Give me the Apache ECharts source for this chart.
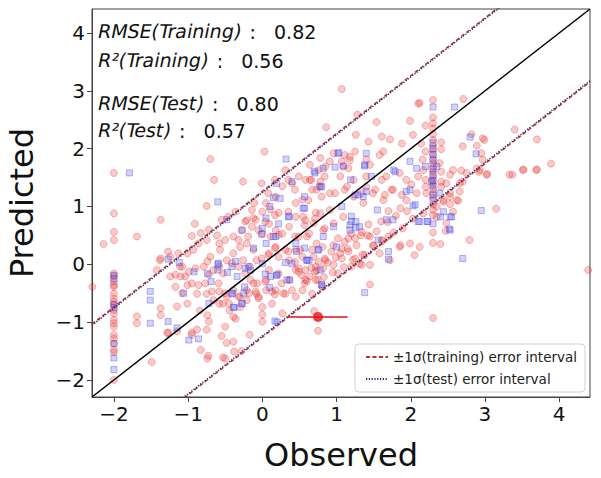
<!DOCTYPE html>
<html><head><meta charset="utf-8">
<script src="https://cdn.jsdelivr.net/npm/echarts@6/dist/echarts.min.js"></script>
<style>html,body{margin:0;padding:0;background:#fff}#c{width:601px;height:478px}</style>
</head><body><div id="c"></div>
<script>
// ---- data ----
const axisMin = -2.295, axisMax = 4.415;
const tickValues = [-2, -1, 0, 1, 2, 3, 4];
const statLabels = ['RMSE(Training)', 'R²(Training)', 'RMSE(Test)', 'R²(Test)'];
const statValues = ['0.82', '0.56', '0.80', '0.57'];
const legendNames = ['±1σ(training) error interval', '±1σ(test) error interval'];
const trainingBand = 1.26;
const testBand = 1.24;
const highlightPoint = [0.75, -0.91];
const highlightError = 0.40;

const trainingPoints = [
 [-2.0,1.58],[-2.0,0.88],[-2.0,0.56],[-2.0,0.42],[-2.0,-0.16],[-2.0,-0.21],[-2.0,-0.30],[-2.0,-0.36],[-2.0,-0.39],[-2.0,-0.51],[-2.0,-0.59],[-2.0,-0.65],[-2.0,-0.70],[-2.0,-0.79],[-2.0,-0.85],[-2.0,-0.96],[-2.0,-1.02],[-2.0,-1.08],[-2.0,-1.22],[-2.0,-1.28],[-2.0,-1.37],[-2.0,-1.48],[-2.0,-1.52],[-2.0,-2.0],
 [-0.70,1.82],[-0.65,1.46],[-0.26,1.43],[-1.37,0.77],[-0.75,1.01],[-1.69,0.48],[-2.14,0.35],[-0.95,0.49],[-1.27,0.22],[-1.37,0.10],
 [-0.83,0.54],[-0.72,0.60],[-0.55,0.77],[-0.36,0.91],[-0.23,0.74],[-0.14,0.94],[-0.09,0.77],[-0.05,0.59],[-0.32,0.42],[-0.19,0.48],[-0.58,0.36],[-0.86,0.36],[-1.13,0.19],
 [-2.29,-0.39],[-1.69,-0.90],[-1.69,-1.02],[-1.37,-0.76],[-1.37,-0.88],[-1.15,-0.73],[-1.27,-1.18],[-1.49,-1.69],[-0.95,-1.18],[-0.83,-1.48],[-0.74,-1.63],[-0.50,-1.63],[-0.38,-1.51],[-0.50,-1.08],[-0.36,-0.94],[-0.74,-0.88],[-0.72,-0.99],[-1.08,-0.50],[-1.17,-0.39],[-1.10,-0.21],
 [-1.01,-0.36],[-0.86,-0.36],[-0.77,-0.33],[-0.68,-0.47],[-0.58,-0.47],[-0.50,-0.50],[-0.58,-0.68],[-0.45,-0.68],[-0.32,-0.56],[-0.18,-0.50],[-0.09,-0.47],[-0.05,-0.59],[-0.41,0.02],[-0.32,-0.04],[-0.23,-0.16],[-0.16,-0.27],[-0.07,-0.33],[-0.72,-0.18],[-0.90,-0.07],[-1.08,-0.04],[-0.99,-0.13],[-1.17,-0.18],[-0.74,0.05],[-0.58,-0.04],
 [-0.91,0.70],[-0.46,0.82],[-0.12,0.80],[0.00,0.91],[0.11,0.95],[0.22,0.89],[0.45,1.06],[0.54,1.12],[0.18,1.17],[0.05,1.06],[-0.11,1.06],[0.27,1.35],[0.40,1.40],[0.58,1.46],[0.76,1.63],[0.85,1.69],[0.67,1.29],[0.77,1.35],
 [-1.24,-0.21],[-1.42,-0.10],[-1.38,0.07],[-1.24,0.13],[-1.11,-0.04],[-1.04,-0.21],[-0.95,-0.33],[-0.88,-0.51],[-1.01,-0.68],[-0.84,-0.80],[-0.75,-0.51],[-0.66,-0.62],[-0.59,-0.33],[-0.53,-0.16],[-0.66,-0.10],[-0.79,-0.04],[-0.70,0.13],[-0.57,0.25],[-0.48,0.07],[-0.39,0.19],[-0.30,0.30],[-0.26,0.07],[-0.17,-0.04],[-0.08,0.07],[-0.12,0.25],[-0.21,0.36],[-0.39,0.48],[-0.50,0.42],[-0.61,0.50],[-0.75,0.42],[-0.93,0.25],[-1.01,0.19],[-0.28,0.59],[-0.14,0.65],[-0.21,0.76],[0.00,0.53],[0.11,0.48],[0.18,0.59],[0.09,0.70],[0.27,0.53],[0.36,0.65],[0.45,0.82],[0.58,0.76],[0.72,0.89],[0.49,0.48],[0.63,0.53],[0.45,0.25],[0.31,0.25],[0.18,0.30],[0.09,0.19],[0.22,0.13],[0.36,0.07],[0.54,0.13],[0.67,0.25],[0.81,0.30],[0.85,0.07],[0.72,-0.04],[0.58,-0.10],[0.45,-0.10],[0.36,-0.27],[0.22,-0.16],[0.09,-0.10],[0.05,-0.27],[-0.12,-0.33],[-0.21,-0.45],[-0.30,-0.56],[-0.39,-0.45],[-0.48,-0.56],[-0.53,-0.68],[-0.44,-0.80],[-0.30,-0.74],[-0.21,-0.62],[-0.08,-0.51],[0.05,-0.45],[0.18,-0.45],[0.31,-0.51],[0.45,-0.56],[0.54,-0.45],[0.67,-0.51],[0.81,-0.39],[0.72,-0.27],[0.58,-0.27],[0.00,-0.74],[0.13,-0.68],[0.27,-0.85],[0.00,-0.99],[0.00,-0.87],[-0.17,-1.22],[-0.39,-0.91],[-0.55,-1.24],[-0.48,-1.36],[-0.73,-1.58],[-0.53,-1.61],[-0.28,-1.50],[-0.39,-1.34],[-0.75,-1.13],[-0.88,-1.13],[-0.95,-1.22],[-1.15,-1.16],[-1.28,-1.19],
 [1.07,3.03],[2.10,2.78],[0.86,2.37],[1.26,2.24],[1.54,2.46],[1.99,2.48],[0.03,1.95],[1.43,2.12],[1.72,2.16],[2.03,2.24],[1.63,1.95],[1.25,1.95],[0.96,1.92],[1.11,1.89],[1.18,1.80],[1.07,1.78],[1.16,1.66],[0.91,1.78],[0.31,1.63],[0.49,1.52],[0.66,1.46],[0.78,1.43],[0.84,1.52],[0.17,1.46],[0.35,1.46],[0.08,1.23],[-0.01,1.40],[1.88,2.09],[2.14,2.09],[1.61,2.21],[1.45,1.72],[1.61,1.46],[1.74,1.29],[1.88,1.20],[1.11,1.29],[0.98,1.23],[0.80,1.17],[0.62,1.11],[0.44,1.29],[1.34,1.23],[1.52,1.29],[1.65,1.20],[2.01,1.38],[1.28,2.59],
 [0.64,1.72],[0.78,1.84],[1.18,1.86],[1.09,1.69],[1.40,1.81],[1.58,1.89],[1.05,1.52],[1.23,1.46],[1.40,1.52],[1.67,1.52],[1.85,1.58],[1.94,1.46],[2.10,1.52],[2.17,1.63],[2.39,1.75],[2.57,1.63],[2.66,1.40],[2.48,1.40],[2.53,1.23],[2.62,1.11],[2.44,1.11],[2.75,1.58],[2.93,1.63],[3.02,1.55],[3.33,1.55],[3.51,1.63],[3.69,1.63],[2.21,1.23],[2.08,1.23],[1.94,1.11],
 [1.86,0.97],[1.70,0.92],[1.60,0.74],[1.43,0.69],[1.33,0.50],[1.16,0.45],[1.07,0.27],[0.93,0.22],[0.76,0.04],[0.66,-0.06],[0.49,-0.13],[0.60,-0.29],[0.73,-0.11],[0.88,0.03],[0.99,0.12],[1.15,0.27],[1.27,0.33],[1.42,0.50],[1.54,0.57],[1.69,0.73],[1.80,0.84],[1.95,0.92],[2.03,0.79],[1.89,0.62],[1.77,0.55],[1.62,0.40],[1.50,0.32],[1.35,0.17],[1.22,0.08],[1.10,-0.05],[0.95,-0.14],[0.83,-0.22],[1.85,0.30],[1.99,0.36],[2.12,0.30],[2.35,0.82],[2.48,0.71],
 [0.78,0.88],[0.91,0.94],[1.09,0.82],[0.96,0.71],[0.82,0.59],[0.69,0.71],[0.55,0.82],[0.60,0.48],[0.73,0.36],[0.51,0.25],[1.23,1.17],[1.36,1.06],[1.49,1.23],[1.63,1.11],[1.76,1.29],[1.40,1.34],[1.14,1.34],[0.91,1.23],[0.73,1.29],[0.64,1.46],[1.58,0.19],[1.72,0.07],[1.31,0.01],[0.69,0.13],
 [0.75,-1.15],[0.70,-0.81],[0.17,-0.52],[0.28,-0.50],[1.45,-0.35],[2.05,0.16],[1.86,0.33],[1.70,0.48],[1.61,0.42],[1.49,0.33],
 [-0.05,-0.56],[0.04,-0.30],[0.13,-0.47],[0.26,-0.33],[0.40,-0.45],[0.53,-0.19],[0.64,-0.21],[0.57,-0.33],[0.71,-0.13],[0.82,-0.07],[0.75,-0.27],[0.96,-0.01],[1.07,0.10],[1.02,-0.16],[1.20,-0.04],[1.34,-0.01],[1.25,0.10],[1.16,0.22],[1.38,0.16],[1.45,-0.01],[1.05,0.19],[0.84,0.10],[0.96,0.33],[1.25,0.45],[1.11,0.39],[1.20,0.53],[1.34,0.56],[1.45,0.48],[1.02,0.45],[0.49,-0.07],[0.44,0.04],[0.35,0.22],[0.17,0.28],[0.08,0.16],[-0.01,0.10],[0.22,0.51],[0.44,0.48],[0.57,0.68],[0.71,0.79],[0.84,0.62],[0.35,0.91],[0.17,0.85],[0.04,0.74],
 [2.71,2.86],[3.40,2.33],[3.70,2.16],[3.89,1.74],[3.70,1.64],[3.52,1.64],[3.37,1.55],[3.03,1.56],[2.97,2.18],[2.99,2.15],[2.82,2.25],[2.70,2.04],[2.89,2.05],[2.95,1.92],[2.97,1.81],[2.89,1.66],[2.92,1.60],[2.68,1.62],[2.53,1.55],[2.41,1.60],[2.41,2.11],[2.41,1.99],[2.20,1.95],[2.20,2.40],[2.16,1.81],[2.12,2.79],[2.20,1.46],[2.20,1.34],[2.41,1.43],[2.41,1.34],[2.70,1.43],
 [3.15,0.96],[2.79,0.42],[2.40,0.35],[2.30,0.55],[2.47,0.58],[2.30,-0.93],[4.39,-0.10],[2.64,1.10],[2.66,1.26],[2.53,1.17],[2.53,1.04],[2.44,1.08],[2.35,1.00],[2.57,0.91],[2.17,0.88],
 [2.30,2.84],[2.30,2.54],[2.30,2.44],[2.30,2.35],[2.30,2.25],[2.30,2.15],[2.30,2.05],[2.30,1.98],[2.30,1.90],[2.30,1.82],[2.30,1.75],[2.30,1.68],[2.30,1.60],[2.30,1.52],[2.30,1.45],[2.30,1.38],[2.30,1.30],[2.30,1.22],[2.30,1.15],[2.30,1.03],[2.30,0.94],[2.30,0.85],[2.30,0.37]
];

const testPoints = [
 [-2.0,-0.19],[-2.0,-0.25],[-2.0,-0.70],[-2.0,-0.75],[-2.0,-1.37],[-2.0,-1.62],[-2.0,-1.82],
 [-1.79,1.58],[-0.60,1.08],[-0.48,0.77],[-0.27,0.59],[-1.27,0.09],[-1.12,0.03],
 [-1.51,-0.47],[-1.51,-0.62],[-1.51,-1.02],[-1.27,-0.99],[-1.15,-1.10],[-0.99,-1.31],[-0.86,-1.29],[-0.92,-0.13],[-0.69,-0.30],[-1.06,-0.50],[-0.72,-0.68],[-0.38,-0.75],[-0.25,-0.50],[-0.40,-0.50],[-0.27,-0.68],
 [-0.60,-0.10],[-0.47,-0.14],[-0.74,-0.16],[-0.59,0.02],[-0.36,0.05],[-0.23,-0.07],[-0.16,-0.10],
 [0.00,0.62],[0.05,0.80],[0.22,0.70],[0.36,0.82],[-0.60,0.00],[-0.41,-0.04],[-0.34,-0.21],[-0.24,-0.39],[-0.41,-0.51],[-0.28,-0.68],[-0.39,-0.74],[-0.19,-0.04],[0.00,0.01],[0.11,-0.21],[0.20,-0.18],[0.33,-0.27],[0.40,0.01],[0.63,0.07],[0.76,0.25],[0.20,-1.00],[-0.12,0.28],[0.05,0.36],[0.18,0.48],[0.45,0.36],
 [0.32,1.82],[0.70,1.61],[0.98,1.68],[1.03,1.93],[1.09,1.70],[0.82,1.66],[1.19,1.46],[1.38,1.70],[1.77,1.63],[1.79,1.60],[1.99,1.78],[2.08,1.66],[1.47,1.52],[0.40,1.43],[0.19,1.40],[0.24,1.14],[0.15,1.15],[0.80,1.34],[1.25,1.20],[1.36,1.17],[1.99,1.29],[2.03,1.01],[0.57,0.97],
 [0.17,-0.98],[1.38,-0.49],[0.80,-0.35],[1.70,0.22],[1.70,0.09],[1.56,0.42],[2.10,0.74],[1.26,0.74],[1.26,0.63],[1.18,0.68],[0.37,-0.27],[0.10,-0.40],[0.04,-0.17],[0.31,0.03],[0.46,0.22],[0.60,0.07],[0.57,0.28],[0.19,-0.19],[-0.01,0.52],[0.15,0.48],[0.10,1.00],[0.35,0.83],[0.55,0.97],[1.07,1.00],[1.20,0.83],[1.67,0.77],[1.76,0.77],
 [2.30,2.72],[2.59,2.72],[2.80,2.20],[2.88,1.91],[2.20,1.69],[2.35,1.69],[2.28,1.43],
 [2.95,0.93],[2.70,0.10],[2.52,0.61],[2.40,0.82],[2.53,0.82],[2.22,0.74],[2.12,0.74],[2.30,0.70],
 [0.71,1.58],[1.38,1.72],[1.40,1.92],[1.02,1.92],[0.57,1.17],[0.78,1.34],[1.29,1.20],[1.40,1.26],[1.94,1.26],[2.06,1.03],[2.39,1.23],[1.55,0.94],[1.31,0.65],[1.18,0.59],[0.96,0.65],[1.20,0.74],[0.82,0.48],[0.75,0.25],[0.60,0.07],[0.78,-0.10],[1.00,0.30],[2.23,0.74],[2.44,0.91],[2.55,0.82],[2.53,0.59],[0.80,-0.36],
 [2.30,2.10],[2.30,2.00],[2.30,1.90],[2.30,1.80],[2.30,1.65],[2.30,1.55],[2.30,1.45],[2.30,1.35],[2.30,1.20],[2.30,1.10]
];

// ---- chart ----
const FONT = 'DejaVu Sans';
const chart = echarts.init(document.getElementById('c'), null, {renderer: 'svg'});
const fmt = v => String(v).replace('-', '\u2212');
const bandLine = off => [[axisMin, axisMin + off], [axisMax, axisMax + off]];
const statY = [32, 60.5, 104, 131];
const statX = 98;

const trainStyle = {color: '#b8322e', width: 1.5, type: [4, 2.5]};
const testStyle = {color: '#2e2870', width: 1.5, type: [1.2, 1.6]};
const statFont = 'normal 19px "DejaVu Sans"';

// measure upright label width so the value can follow it
const mctx = document.createElement('canvas').getContext('2d');
mctx.font = statFont;
const labelWidth = s => mctx.measureText(s).width;

const statGraphics = [];
statLabels.forEach((lab, i) => {
  statGraphics.push({
    type: 'text', x: statX, y: statY[i], z: 100, skewX: -0.2, originX: 0, originY: 0,
    style: {text: lab, font: statFont, fill: '#111', verticalAlign: 'middle'}
  });
  statGraphics.push({
    type: 'text', x: statX + labelWidth(lab) + 2, y: statY[i], z: 100,
    style: {text: ' :   ' + statValues[i], font: statFont, fill: '#111', verticalAlign: 'middle'}
  });
});

chart.setOption({
  animation: false,
  textStyle: {fontFamily: FONT},
  grid: {left: 92, right: 11, top: 9, bottom: 81, show: true, borderColor: '#444', borderWidth: 1,
         outerBoundsMode: 'none', containLabel: false},
  xAxis: {
    type: 'value', min: axisMin, max: axisMax,
    axisLine: {show: true, onZero: false, lineStyle: {color: '#444'}},
    axisTick: {show: true, customValues: tickValues, length: 5, lineStyle: {color: '#444'}},
    axisLabel: {customValues: tickValues, formatter: fmt, fontSize: 20, color: '#111', margin: 7, fontFamily: FONT},
    splitLine: {show: false},
    name: 'Observed', nameLocation: 'middle', nameGap: 42, nameMoveOverlap: false,
    nameTextStyle: {fontSize: 32, color: '#111', fontFamily: FONT}
  },
  yAxis: {
    type: 'value', min: axisMin, max: axisMax,
    axisLine: {show: true, onZero: false, lineStyle: {color: '#444'}},
    axisTick: {show: true, customValues: tickValues, length: 5, lineStyle: {color: '#444'}},
    axisLabel: {customValues: tickValues, formatter: fmt, fontSize: 20, color: '#111', margin: 7, fontFamily: FONT},
    splitLine: {show: false},
    name: 'Predicted', nameLocation: 'middle', nameGap: 54, nameMoveOverlap: false,
    nameTextStyle: {fontSize: 32, color: '#111', fontFamily: FONT}
  },
  legend: {
    data: legendNames, orient: 'vertical', right: 16, bottom: 86,
    itemWidth: 22, itemHeight: 10, itemGap: 8, padding: [6, 8, 6, 10],
    itemStyle: {opacity: 0},
    backgroundColor: 'rgba(255,255,255,0.85)', borderColor: '#d0d0d0', borderWidth: 1, borderRadius: 4,
    textStyle: {fontSize: 13.5, color: '#222', fontFamily: FONT}
  },
  graphic: statGraphics,
  series: [
    {type: 'scatter', name: 'training', data: trainingPoints, symbol: 'circle', symbolSize: 7, z: 2, silent: true,
     itemStyle: {color: 'rgba(235,50,50,0.33)', borderColor: 'rgba(225,40,40,0.38)', borderWidth: 1}},
    {type: 'scatter', name: 'test', data: testPoints, symbol: 'rect', symbolSize: 6, z: 3, silent: true,
     itemStyle: {color: 'rgba(70,70,235,0.30)', borderColor: 'rgba(60,60,225,0.45)', borderWidth: 1}},
    {type: 'line', name: 'identity', data: [[axisMin, axisMin], [axisMax, axisMax]], symbol: 'none', z: 4, silent: true,
     lineStyle: {color: '#000', width: 1.5}},
    {type: 'line', name: legendNames[0], data: bandLine(trainingBand), symbol: 'none', z: 5, silent: true, lineStyle: trainStyle, itemStyle: {color: trainStyle.color}},
    {type: 'line', name: legendNames[0], data: bandLine(-trainingBand), symbol: 'none', z: 5, silent: true, lineStyle: trainStyle, itemStyle: {color: trainStyle.color}},
    {type: 'line', name: legendNames[1], data: bandLine(testBand), symbol: 'none', z: 6, silent: true, lineStyle: testStyle, itemStyle: {color: testStyle.color}},
    {type: 'line', name: legendNames[1], data: bandLine(-testBand), symbol: 'none', z: 6, silent: true, lineStyle: testStyle, itemStyle: {color: testStyle.color}},
    {type: 'line', name: 'errorbar', data: [[highlightPoint[0] - highlightError, highlightPoint[1]], [highlightPoint[0] + highlightError, highlightPoint[1]]],
     symbol: 'none', z: 7, silent: true, lineStyle: {color: '#e01010', width: 1.5}},
    {type: 'scatter', name: 'highlight', data: [highlightPoint], symbol: 'circle', symbolSize: 10, z: 8, silent: true,
     itemStyle: {color: '#e51010'}}
  ]
});
</script></body></html>
